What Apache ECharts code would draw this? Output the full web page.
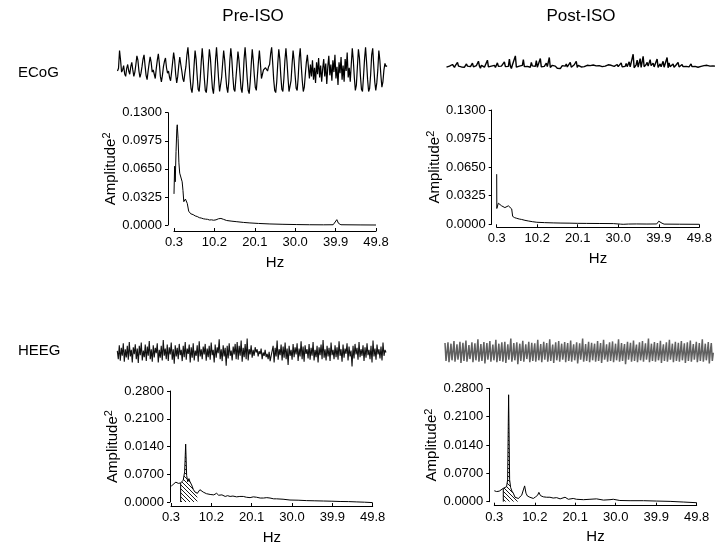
<!DOCTYPE html>
<html>
<head>
<meta charset="utf-8">
<title>ECoG / HEEG pre and post ISO</title>
<script src="https://cdn.jsdelivr.net/npm/echarts@6/dist/echarts.min.js"></script>
<style>
html, body { margin: 0; padding: 0; background: #fff; }
#main { width: 720px; height: 546px; }
</style>
</head>
<body>
<div id="main"></div>
<script>
// raw traces, arbitrary units (0..100), one value per sample
var ecogPre = [50,55,88,70,48,52,60,45,40,55,62,50,44,58,66,52,40,48,
  62,78,70,50,38,46,58, 72,80,60,42,34,50,64, 76,66,48,52,44,36,55, 70,82,64,40,30,42,58, 68,74,56,46,50,38,32, 48,66,84,70,44,28,40, 60,76,62,50,36,30,46, 58,
  80,94,70,40,18,10,28, 60,88,72,42,16,12,34, 66,92,68,38,14,10,30, 62,90,74,44,18,8,32, 70,94,66,36,12,14,38, 64,88,70,42,20,10,30,
  68,92,72,40,16,12,36, 60,86,70,44,18,10,34, 72,94,68,38,14,8,30, 62,90,70,42,20,14,40, 66,88,64,36,
  44,52,50,56,54,50,58,62,
  82,94,66,34,14,10,30, 64,90,72,40,16,12,36, 70,92,68,38,12,10,32, 62,88,70,42,18,14,38, 74,92,60,32,12,20,44, 66,80,58,
  36,62,40,70,34,56,28,66,44,74,38,60,30,54,72,40,64,26,58,78,42,62,32,70,48,80,36,58,24,66,46,76,34,60,30,72,50,84,38,56,
  30,62,92,70,38,14,24, 58,90,74,40,16,12,40, 72,94,66,34,12,18,44, 80,92,60,30,14,28,52, 88,70,42,20,30,52,64, 58,60];

var ecogPost = [40,46,41,44,38,45,50,43,39,47,42,58,44,37,45,41,48,43,40,46,52,44,38,47,42,45,55,41,44,39,
  46,43,62,44,36,47,42,49,40,45,43,66,41,38,46,44,50,42,47,39,45,56,43,40,48,44,41,46,60,42,
  37,45,43,70,44,35,48,42,46,82,40,33,45,44,50,41,47,68,42,38,46,43,49,44,40,58,45,42,47,43,
  64,40,44,46,72,41,37,48,43,45,55,42,46,76,39,44,47,42,50,44,38,36,33,31,35,40,46,42,48,44,
  52,41,46,43,58,40,45,42,49,44,62,39,47,43,46,41,44,48,42,45,43,47,44,42,46,45,43,48,44,46,
  45,47,43,46,44,48,42,45,47,44,46,43,49,45,42,47,44,46,43,48,45,50,42,47,44,56,41,46,48,43,
  54,42,46,60,41,47,44,88,38,45,49,66,40,46,72,39,45,80,42,37,50,58,44,41,68,46,43,55,41,48,
  46,70,39,45,52,42,48,62,40,46,44,76,38,56,42,47,44,52,40,45,48,43,58,41,46,44,50,42,47,45,
  43,49,44,41,46,52,42,45,48,43,46,44,40,47,45,43,48,44,46,42,45,47,43,46,44,48,42,45,43,44];

var heegPre = [55,30,72,25,64,40,78,22,60,35,70,28,82,38,58,20,66,45,75,30,62,18,70,42,80,26,56,36,74,24,
  68,40,85,30,60,22,72,35,64,48,78,20,58,34,70,26,88,40,62,30,74,24,66,44,80,28,60,16,72,38,
  64,30,76,42,58,24,70,36,82,28,62,46,74,20,66,34,78,26,56,40,72,22,84,38,60,30,68,44,76,25,
  62,36,70,28,80,42,58,20,74,34,66,48,90,30,60,24,72,38,64,10,70,32,78,40,56,26,68,44,76,30,
  82,28,70,40,86,22,64,36,76,30,92,26,60,44,72,34,58,40,66,50,60,38,54,45,62,30,50,40,58,36,
  46,30,52,24,40,35,70,20,64,38,86,28,60,42,74,26,68,34,80,30,62,12,70,40,58,28,76,36,66,44,
  78,24,62,38,84,30,68,22,72,46,60,32,76,28,64,40,82,26,58,36,70,20,66,42,74,30,88,34,60,26,
  70,38,64,24,80,42,58,30,72,36,66,28,84,40,60,22,74,34,62,46,78,26,68,38,56,8,70,32,76,44,
  64,28,82,36,60,40,72,24,66,34,78,42,58,30,70,20,86,38,62,28,74,44,60,32,68,26,80,40,58,50];

var heegPost = [78,22,50, 80,18,46, 76,24,52, 84,20,44, 74,26,50, 82,16,48, 79,22,54, 86,20,42, 72,28,50, 80,18,46,
  77,24,52, 90,20,44, 75,22,50, 81,14,48, 78,26,52, 84,20,46, 73,24,50, 88,18,44, 76,22,52, 80,20,48,
  82,16,46, 74,26,54, 92,20,42, 78,24,50, 80,12,48, 76,22,52, 85,20,46, 74,28,50, 82,18,44, 79,22,52,
  77,20,48, 88,24,46, 75,18,50, 82,26,54, 78,20,44, 90,22,48, 73,16,52, 80,24,46, 84,20,50, 76,26,48,
  81,18,52, 78,22,44, 86,20,50, 74,24,48, 80,14,46, 77,26,52, 92,20,44, 75,22,50, 82,18,48, 79,24,52,
  76,20,46, 84,22,50, 78,16,48, 88,26,44, 74,20,52, 80,22,48, 83,18,46, 76,24,50, 90,20,44, 78,22,52,
  75,12,48, 82,26,50, 79,20,46, 86,22,52, 73,18,48, 80,24,44, 84,20,50, 77,26,48, 92,18,46, 76,22,52,
  81,20,48, 78,24,44, 85,16,50, 74,22,52, 80,20,46, 88,26,48, 76,18,50, 82,22,44, 79,20,52, 84,24,48,
  77,16,46, 80,22,50, 86,20,48, 75,26,52, 82,18,44, 78,22,50, 90,20,46, 76,24,48, 81,14,52, 78,22,48];

// power spectra: [Hz, Amplitude^2]
var ecogPreSpec = [[0.3,0.036],[0.45,0.068],[0.6,0.05],[0.8,0.085],[1.0,0.112],[1.1,0.116],[1.3,0.1],[1.5,0.072],[1.7,0.06],[1.9,0.062],
  [2.1,0.058],[2.3,0.05],[2.5,0.04],[2.7,0.027],[2.9,0.025],[3.1,0.03],[3.3,0.032],[3.55,0.025],[3.9,0.016],[4.4,0.013],
  [5.0,0.012],[5.5,0.0105],[6.0,0.0098],[6.5,0.0085],[7.0,0.008],[7.5,0.0072],[8.0,0.0068],[8.5,0.0066],[9.0,0.0058],[9.5,0.006],
  [10.0,0.0055],[10.6,0.006],[11.2,0.0072],[11.8,0.0076],[12.4,0.0066],[13.2,0.0052],[14.5,0.0044],[15.7,0.0038],[17.3,0.003],[18.9,0.0024],
  [21.0,0.0018],[23.8,0.0012],[27.0,0.0008],[30.4,0.0005],[33.5,0.0003],[36.9,0.0002],[39.3,0.0003],[39.8,0.0035],[40.2,0.0062],[40.6,0.002],
  [41.2,0.0003],[45.9,0.0001],[49.8,0]];

var ecogPostSpec = [[0.3,0.057],[0.33,0.018],[0.7,0.024],[1.1,0.0225],[1.5,0.021],[1.9,0.02],[2.3,0.019],[2.7,0.0195],[3.15,0.021],[3.56,0.019],
  [3.96,0.0175],[4.2,0.009],[4.7,0.0075],[5.2,0.0068],[5.8,0.006],[6.4,0.0055],[7.2,0.0045],[8.0,0.0038],[9.0,0.003],[10.1,0.0023],
  [12.0,0.0019],[14.1,0.0016],[16.0,0.0014],[18.2,0.0013],[20.0,0.0011],[22.3,0.001],[25.5,0.0009],[28.8,0.0008],[30.5,0.0002],[31.2,0],
  [32.5,0.0003],[34.5,0.0004],[37.0,0.0003],[39.4,0.0004],[39.9,0.0035],[40.3,0.0055],[40.7,0.0012],[41.2,0.0002],[45.0,0.0001],[49.8,0]];

var heegPreSpec = [[0.3,0.039],[0.87,0.045],[1.5,0.05],[2.1,0.047],[2.4,0.049],[2.67,0.048],[2.9,0.052],[3.3,0.055],[3.65,0.076],[3.9,0.146],
  [4.14,0.067],[4.4,0.051],[4.7,0.059],[4.96,0.051],[5.37,0.043],[5.8,0.031],[6.2,0.025],[6.76,0.022],[7.0,0.02],[7.4,0.031],
  [7.8,0.027],[8.2,0.025],[8.6,0.022],[9.0,0.021],[9.46,0.018],[9.9,0.019],[10.3,0.02],[10.8,0.018],[11.5,0.022],[12.0,0.017],
  [12.3,0.016],[12.8,0.018],[13.1,0.016],[13.6,0.014],[14.2,0.016],[14.8,0.014],[15.5,0.015],[16.4,0.013],[17.2,0.014],[18.05,0.014],
  [18.8,0.012],[19.7,0.011],[20.5,0.013],[21.3,0.012],[22.2,0.01],[23.0,0.01],[23.8,0.011],[24.6,0.01],[25.5,0.008],[26.2,0.008],
  [27.8,0.007],[29.5,0.005],[31.5,0.0045],[33.6,0.0035],[35.6,0.003],[37.7,0.0025],[39.8,0.002],[41.8,0.0013],[43.9,0.001],[45.9,0.0002],
  [47.8,-0.0005],[49.8,-0.0015]];

var heegPostSpec = [[0.3,0.027],[0.87,0.025],[1.5,0.026],[1.93,0.03],[2.5,0.033],[2.9,0.035],[3.3,0.037],[3.56,0.054],[3.8,0.264],[4.05,0.054],
  [4.3,0.035],[4.62,0.026],[4.95,0.021],[5.36,0.011],[5.76,0.014],[6.17,0.008],[6.58,0.012],[7.0,0.016],[7.4,0.029],[7.72,0.039],
  [8.05,0.021],[8.4,0.014],[9.0,0.011],[9.4,0.012],[9.84,0.008],[10.4,0.012],[10.9,0.016],[11.2,0.023],[11.6,0.015],[12.3,0.012],
  [13.1,0.011],[13.9,0.011],[14.7,0.009],[15.55,0.01],[16.4,0.007],[17.6,0.011],[18.4,0.006],[19.6,0.008],[20.4,0.006],[22.1,0.005],
  [23.7,0.006],[25.3,0.007],[27.0,0.004],[28.6,0.005],[29.4,0.006],[31.0,0.003],[33.5,0.0025],[36.8,0.0025],[40.0,0.0016],[43.3,0.0008],
  [46.5,-0.0008],[49.8,-0.0025]];

// hatched band limits (Hz)
var heegPreBand = [2.67, 6.76];
var heegPostBand = [2.5, 6.58];

// tick values and labels
var hzTicks = [0.3, 10.2, 20.1, 30.0, 39.9, 49.8];
var ecogTicks = [0, 0.0325, 0.065, 0.0975, 0.13];
var ecogTickLabels = ['0.0000', '0.0325', '0.0650', '0.0975', '0.1300'];
var heegTicks = [0, 0.07, 0.14, 0.21, 0.28];
var heegTickLabels = ['0.0000', '0.0700', '0.0140', '0.2100', '0.2800'];

var FONT = '"Liberation Sans", Arial, Helvetica, sans-serif';

function makeHatch() {
	var c = document.createElement('canvas');
	c.width = 4; c.height = 4;
	var ctx = c.getContext('2d');
	ctx.strokeStyle = '#000';
	ctx.lineWidth = 0.9;
	ctx.beginPath();
	ctx.moveTo(-1, -1); ctx.lineTo(5, 5);
	ctx.stroke();
	return c;
}
var hatch = makeHatch();

function toXY(arr) {
	var out = [];
	for (var i = 0; i < arr.length; i++) out.push([i, arr[i]]);
	return out;
}

var grids = [], xAxes = [], yAxes = [], series = [];

// trace panel (no axes)
function addTrace(arr, box, color, width) {
	var idx = grids.length;
	grids.push({left: box[0], top: box[1], width: box[2], height: box[3], containLabel: false});
	xAxes.push({gridIndex: idx, type: 'value', min: 0, max: arr.length - 1, show: false});
	yAxes.push({gridIndex: idx, type: 'value', min: 0, max: 100, show: false});
	series.push({type: 'line', xAxisIndex: idx, yAxisIndex: idx, data: toXY(arr), showSymbol: false,
		silent: true, clip: false, lineStyle: {color: color, width: width}});
}

// spectrum panel
function addSpec(spec, box, xOff, yOff, ticks, labels, band) {
	var idx = grids.length;
	grids.push({left: box[0], top: box[1], width: box[2], height: box[3], containLabel: false});
	xAxes.push({
		gridIndex: idx, type: 'value', min: 0.3, max: 49.8, offset: xOff,
		name: 'Hz', nameLocation: 'middle', nameGap: 24,
		nameTextStyle: {fontSize: 15, color: '#000', fontFamily: FONT},
		axisLine: {show: true, onZero: false, lineStyle: {color: '#000', width: 1}},
		axisTick: {show: true, inside: true, length: 3, customValues: hzTicks, lineStyle: {color: '#000'}},
		axisLabel: {show: true, customValues: hzTicks, margin: 5, fontSize: 13, color: '#000', fontFamily: FONT,
			formatter: function(v) { return v.toFixed(1); }},
		splitLine: {show: false}
	});
	yAxes.push({
		gridIndex: idx, type: 'value', min: 0, max: ticks[ticks.length - 1], offset: yOff,
		name: '{a|Amplitude}{s|2}', nameLocation: 'middle', nameGap: 46,
		nameTextStyle: {color: '#000', fontFamily: FONT, rich: {
			a: {fontSize: 15, fontFamily: FONT, color: '#000', lineHeight: 18},
			s: {fontSize: 11, fontFamily: FONT, color: '#000', verticalAlign: 'top', lineHeight: 11}
		}},
		axisLine: {show: true, onZero: false, lineStyle: {color: '#000', width: 1}},
		axisTick: {show: true, inside: false, length: 3, customValues: ticks, lineStyle: {color: '#000'}},
		axisLabel: {show: true, customValues: ticks, margin: 6, fontSize: 13, color: '#000', fontFamily: FONT,
			formatter: function(v) {
				var k = 0;
				for (var i = 0; i < ticks.length; i++) { if (Math.abs(ticks[i] - v) < 1e-9) k = i; }
				return labels[k];
			}},
		splitLine: {show: false}
	});
	series.push({type: 'line', xAxisIndex: idx, yAxisIndex: idx, data: spec, showSymbol: false,
		silent: true, clip: false, lineStyle: {color: '#000', width: 1}});
	if (band) {
		var part = spec.filter(function(p) { return p[0] >= band[0] && p[0] <= band[1]; });
		series.push({type: 'line', xAxisIndex: idx, yAxisIndex: idx, data: part, showSymbol: false,
			silent: true, z: 1, lineStyle: {width: 0},
			areaStyle: {color: {image: hatch, repeat: 'repeat'}, opacity: 1}});
		// left edge of the hatched band
		series.push({type: 'line', xAxisIndex: idx, yAxisIndex: idx, data: [[part[0][0], 0], part[0]],
			showSymbol: false, silent: true, lineStyle: {color: '#000', width: 1}});
	}
}

addTrace(ecogPre, [117.5, 44, 269.5, 54], '#000', 1.2);
addTrace(ecogPost, [446.5, 51, 268.5, 27], '#000', 1.4);
addTrace(heegPre, [117.3, 336, 268.7, 33], '#111', 1.1);
addTrace(heegPost, [445, 336, 268.3, 32], '#606060', 1.5);

addSpec(ecogPreSpec, [174, 112.7, 202, 112.3], 6, 6, ecogTicks, ecogTickLabels, null);
addSpec(ecogPostSpec, [496.7, 110, 202.6, 114.3], 3, 5, ecogTicks, ecogTickLabels, null);
addSpec(heegPreSpec, [171, 391, 201.7, 113], 4, 1, heegTicks, heegTickLabels, heegPreBand);
addSpec(heegPostSpec, [494.3, 388.3, 202.4, 113.4], 4, 5, heegTicks, heegTickLabels, heegPostBand);

var myChart = echarts.init(document.getElementById('main'));
var option = {
	animation: false,
	backgroundColor: '#fff',
	textStyle: {fontFamily: FONT},
	grid: grids,
	xAxis: xAxes,
	yAxis: yAxes,
	series: series,
	graphic: [
		{type: 'text', x: 253, y: 16, style: {text: 'Pre-ISO', fontSize: 17, fontFamily: FONT, fill: '#000', align: 'center', verticalAlign: 'middle'}},
		{type: 'text', x: 581, y: 16, style: {text: 'Post-ISO', fontSize: 17, fontFamily: FONT, fill: '#000', align: 'center', verticalAlign: 'middle'}},
		{type: 'text', x: 18, y: 73, style: {text: 'ECoG', fontSize: 15, fontFamily: FONT, fill: '#000', align: 'left', verticalAlign: 'middle'}},
		{type: 'text', x: 18, y: 351, style: {text: 'HEEG', fontSize: 15, fontFamily: FONT, fill: '#000', align: 'left', verticalAlign: 'middle'}}
	]
};
myChart.setOption(option);
</script>
</body>
</html>
